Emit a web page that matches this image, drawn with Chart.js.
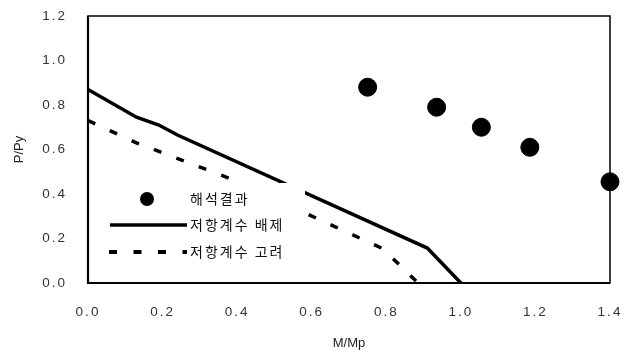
<!DOCTYPE html>
<html>
<head>
<meta charset="utf-8">
<script src="https://cdn.jsdelivr.net/npm/chart.js@4.4.1/dist/chart.umd.min.js"></script>
<style>
  html, body { margin: 0; padding: 0; background: #fff; }
  #wrap { width: 632px; height: 353px; }
</style>
</head>
<body>
<div id="wrap"><canvas id="chart"></canvas></div>
<script>
// analysis results (M/Mp, P/Py)
const testM = [0.75, 0.935, 1.055, 1.185, 1.4];
const testP = [0.88, 0.79, 0.70, 0.61, 0.455];

// interaction curve without resistance factor
const noPhiM = [0, 0.13, 0.19, 0.24, 0.91, 1.0];
const noPhiP = [0.87, 0.745, 0.71, 0.665, 0.157, 0];

// interaction curve with resistance factor
const phiM = [0, 0.13, 0.38, 0.79, 0.885];
const phiP = [0.73, 0.63, 0.47, 0.155, 0];

const seriesNames = ["해석결과", "저항계수 배제", "저항계수 고려"];
const xTicks = [0, 0.2, 0.4, 0.6, 0.8, 1.0, 1.2, 1.4];
const yTicks = [0, 0.2, 0.4, 0.6, 0.8, 1.0, 1.2];

const toXY = (xs, ys) => xs.map((x, i) => ({ x: x, y: ys[i] }));

// frame around the plot area
const framePlugin = {
  id: 'frame',
  beforeDraw(chart) {
    chart.ctx.letterSpacing = '2px';
  },
  beforeDatasetsDraw(chart) {
    const { ctx, chartArea: a } = chart;
    ctx.save();
    ctx.strokeStyle = '#000';
    ctx.lineWidth = 1.5;
    ctx.strokeRect(a.left, a.top, a.right - a.left, a.bottom - a.top);
    ctx.lineWidth = 2.2;
    ctx.beginPath();
    ctx.moveTo(a.left, a.top);
    ctx.lineTo(a.left, a.bottom);
    ctx.lineTo(a.right, a.bottom);
    ctx.stroke();
    ctx.restore();
  },
  afterDatasetsDraw(chart) {
    // boxed legend sitting over the curves
    const { ctx, chartArea: a } = chart;
    const bx = a.left + 12, by = a.top + 167;
    ctx.save();
    ctx.fillStyle = '#fff';
    ctx.fillRect(bx, by, 205, 85);

    const sx = bx + 10, ex = bx + 87, tx = bx + 90;
    const rows = [by + 16, by + 42, by + 69];

    ctx.fillStyle = '#000';
    ctx.beginPath();
    ctx.arc(bx + 47, rows[0], 7, 0, Math.PI * 2);
    ctx.fill();

    ctx.strokeStyle = '#000';
    ctx.lineWidth = 3.5;
    ctx.beginPath();
    ctx.moveTo(sx, rows[1]);
    ctx.lineTo(ex, rows[1]);
    ctx.stroke();

    ctx.lineWidth = 4;
    ctx.setLineDash([8, 16.5]);
    ctx.beginPath();
    ctx.moveTo(sx - 1, rows[2]);
    ctx.lineTo(ex, rows[2]);
    ctx.stroke();
    ctx.setLineDash([]);

    ctx.font = '14px "Noto Sans CJK KR"';
    ctx.letterSpacing = '2px';
    ctx.textBaseline = 'middle';
    ctx.fillStyle = '#111';
    seriesNames.forEach((name, i) => ctx.fillText(name, tx, rows[i]));
    ctx.restore();

    // axis titles come after this, drawn without the tick spacing
    ctx.letterSpacing = '0px';
  }
};

const tickFont = { family: '"Liberation Sans", Arial, sans-serif', size: 13.5 };
const titleFont = { family: '"Liberation Sans", Arial, sans-serif', size: 13 };

new Chart(document.getElementById('chart'), {
  type: 'scatter',
  data: {
    datasets: [
      {
        label: seriesNames[0],
        data: toXY(testM, testP),
        backgroundColor: '#000',
        borderColor: '#000',
        pointRadius: 9,
        pointHoverRadius: 9,
        clip: false
      },
      {
        label: seriesNames[1],
        data: toXY(noPhiM, noPhiP),
        showLine: true,
        borderColor: '#000',
        borderWidth: 3.5,
        pointRadius: 0,
        tension: 0
      },
      {
        label: seriesNames[2],
        data: toXY(phiM, phiP),
        showLine: true,
        borderColor: '#000',
        borderWidth: 3.5,
        borderDash: [8, 16],
        pointRadius: 0,
        tension: 0
      }
    ]
  },
  options: {
    responsive: true,
    maintainAspectRatio: false,
    animation: false,
    layout: { autoPadding: false, padding: { top: 16, right: 22, left: 0, bottom: 0 } },
    plugins: {
      legend: { display: false },
      tooltip: { enabled: false }
    },
    scales: {
      x: {
        type: 'linear',
        min: 0,
        max: 1.4,
        afterBuildTicks: s => { s.ticks = xTicks.map(v => ({ value: v })); },
        afterFit: s => { s.height = 70; },
        grid: { display: false, drawTicks: true, tickLength: 19, z: 1 },
        border: { display: false },
        ticks: {
          padding: 2,
          color: '#333',
          font: tickFont,
          callback: v => Number(v).toFixed(1)
        },
        title: {
          display: true,
          text: 'M/Mp',
          color: '#222',
          padding: { top: 0, bottom: 2 },
          font: titleFont
        }
      },
      y: {
        type: 'linear',
        min: 0,
        max: 1.2,
        afterBuildTicks: s => { s.ticks = yTicks.map(v => ({ value: v })); },
        afterFit: s => { s.width = 88; },
        grid: { display: false, drawTicks: true, tickLength: 19, z: 1 },
        border: { display: false },
        ticks: {
          padding: 2,
          color: '#333',
          font: tickFont,
          callback: v => Number(v).toFixed(1)
        },
        title: {
          display: true,
          text: 'P/Py',
          color: '#222',
          padding: { top: 12, bottom: 0 },
          font: titleFont
        }
      }
    }
  },
  plugins: [framePlugin]
});
</script>
</body>
</html>
